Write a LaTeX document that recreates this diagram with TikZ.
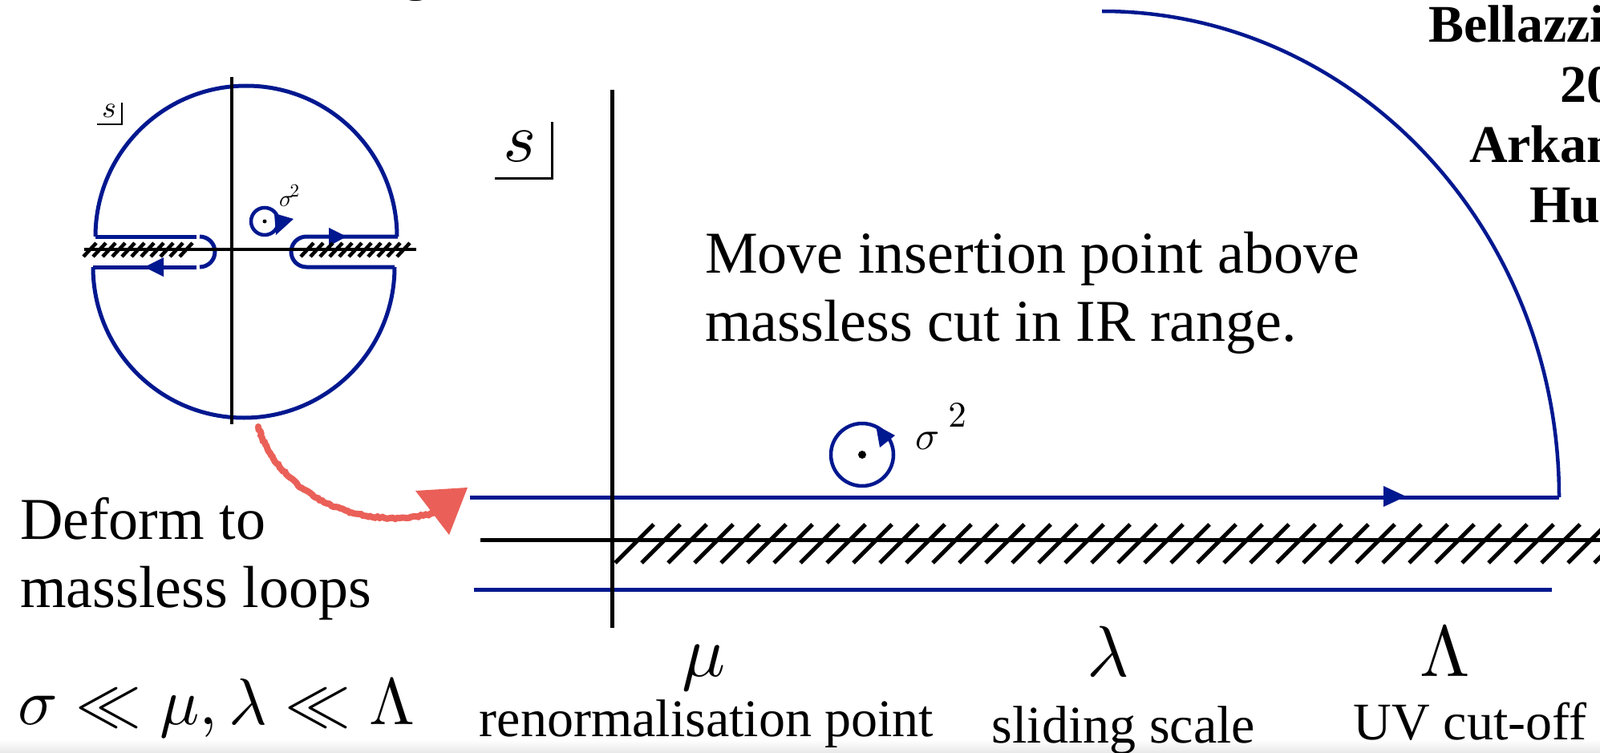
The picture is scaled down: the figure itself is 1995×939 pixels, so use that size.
\documentclass[tikz,border=0pt]{standalone}
\usepackage[no-math]{fontspec}
\setmainfont{Liberation Serif}
\DeclareFontShape{OML}{cmm}{m}{it}{<->cmmi10}{}
\DeclareFontShape{OMS}{cmsy}{m}{n}{<->cmsy10}{}
\DeclareFontShape{OT1}{cmr}{m}{n}{<->cmr10}{}
\usetikzlibrary{decorations.pathmorphing}
\definecolor{cblue}{RGB}{0,24,143}
\definecolor{cred}{RGB}{234,96,88}
\begin{document}
\begin{tikzpicture}[x=1pt,y=1pt,
  bline/.style={draw=cblue,line width=5pt},
  sbline/.style={draw=cblue,line width=5pt},
  axis/.style={draw=black,line width=5pt},
  saxis/.style={draw=black,line width=4.5pt},
  txt/.style={inner sep=0pt,outer sep=0pt},
]
\useasboundingbox (0,0) rectangle (1995,-939);
\clip (0,0) rectangle (1995,-939);
\fill[white] (0,0) rectangle (1995,-939);
\shade[top color=white,bottom color=black!9] (0,-922) rectangle (1995,-939);

% ---------- small diagram ----------
\draw[sbline] (119,-295) arc[start angle=180,end angle=0,radius=188];
\draw[sbline] (116,-333) arc[start angle=180,end angle=360,radius=188];
\draw[sbline] (119,-295) -- (245,-295);
\draw[sbline] (245,-333) -- (116,-333);
\draw[sbline] (249,-295) arc[start angle=90,end angle=-90,radius=19];
\draw[sbline] (496,-295) -- (382,-295) arc[start angle=90,end angle=270,radius=19] -- (492,-333);
\fill[cblue] (180,-333) -- (204,-321) -- (204,-345) -- cycle;
\fill[cblue] (410,-284) -- (432,-295) -- (410,-307) -- cycle;
\draw[saxis] (289,-96) -- (289,-529);
\draw[saxis] (105,-311) -- (519,-311);
\foreach \x in {104,116,...,232} \draw[saxis,line width=4.5pt] (\x,-320) -- (\x+16,-303);
\foreach \x in {375,387,...,501} \draw[saxis,line width=4.5pt] (\x,-320) -- (\x+16,-303);
\draw[sbline,line width=4.5pt] (330,-276) circle[radius=17];
\fill (330,-276) circle[radius=2.5];
\fill[cblue] (342,-266) -- (366,-273) -- (344,-293) -- cycle;
\node[txt,anchor=base west,font=\fontsize{29}{32}\selectfont] (ssig) at (348,-257) {$\sigma$\hspace{-4pt}\raisebox{12pt}{\fontsize{23}{26}\selectfont$2$}};
\node[txt,anchor=base,font=\fontsize{38}{44}\selectfont] (ssmall) at (136,-147) {$s$};
\draw[black,line width=2pt] (121,-155) -- (152,-155) -- (152,-128);

% ---------- red arrow ----------
\draw[cred,line width=8pt,line cap=round,decorate,decoration={random steps,segment length=3pt,amplitude=1pt}] (322,-532) .. controls (345,-610) and (440,-665) .. (540,-640);
\fill[cred] (583,-608) -- (518,-612) -- (560,-667) -- cycle;

% ---------- big diagram ----------
\draw[bline] (586,-620) -- (1944,-620);
\draw[bline,line width=4.5pt] (1944,-620) arc[start angle=0,end angle=90,x radius=570,y radius=606];
\draw[bline] (591,-735) -- (1935,-735);
\fill[cblue] (1725,-606) -- (1753,-619) -- (1725,-632) -- cycle;
\draw[axis] (599,-673) -- (1995,-673);
\draw[axis] (763,-112) -- (763,-783);
\foreach \k in {0,...,37} \draw[axis] ({767+33*\k},-702) -- ({815+33*\k},-654);
\draw[bline,line width=4.5pt] (1075,-567) circle[radius=39];
\fill (1075,-567) circle[radius=5];
\fill[cblue] (1092,-530) -- (1116,-543) -- (1097,-558) -- cycle;
\node[txt,anchor=base west,font=\fontsize{50}{56}\selectfont] (bsig) at (1141,-560) {$\sigma$\hspace{11pt}\raisebox{28pt}{\fontsize{45}{50}\selectfont$2$}};
\node[txt,anchor=base,font=\fontsize{88}{100}\selectfont] (sbig) at (648,-201) {$s$};
\draw[black,line width=3pt] (617,-222) -- (688,-222) -- (688,-152);

% ---------- texts ----------
\node[txt,anchor=base west,font=\fontsize{74}{85}\selectfont] (move1) at (879,-340) {Move insertion point above};
\node[txt,anchor=base west,font=\fontsize{74}{85}\selectfont] (move2) at (879,-425) {massless cut in IR range.};
\node[txt,anchor=base west,font=\fontsize{74}{85}\selectfont] (def1) at (25,-672) {Deform to};
\node[txt,anchor=base west,font=\fontsize{74}{85}\selectfont] (def2) at (25,-757) {massless loops};
\node[txt,anchor=base west,font=\fontsize{82}{90}\selectfont] (ineq) at (22,-903) {$\sigma \ll \mu, \lambda \ll \Lambda$};
\node[txt,anchor=base,font=\fontsize{90}{100}\selectfont] (mu) at (878,-843) {$\mu$};
\node[txt,anchor=base,font=\fontsize{90}{100}\selectfont] (lam) at (1382,-843) {$\lambda$};
\node[txt,anchor=base,font=\fontsize{90}{100}\selectfont] (Lam) at (1802,-843) {$\Lambda$};
\node[txt,anchor=base,font=\fontsize{66}{75}\selectfont] (renorm) at (881,-918) {renormalisation point};
\node[txt,anchor=base,font=\fontsize{66}{75}\selectfont] (slide) at (1401,-926) {sliding scale};
\node[txt,anchor=base,font=\fontsize{66}{75}\selectfont] (uv) at (1833,-922) {UV cut-off};

% ---------- clipped references / title ----------
\node[txt,anchor=base west,font=\fontsize{66}{75}\selectfont\bfseries] (ref1) at (1781,-53) {Bellazzini};
\node[txt,anchor=base west,font=\fontsize{66}{75}\selectfont\bfseries] (ref2) at (1945,-128) {2020};
\node[txt,anchor=base west,font=\fontsize{66}{75}\selectfont\bfseries] (ref3) at (1832,-202) {Arkani-Hamed};
\node[txt,anchor=base west,font=\fontsize{66}{75}\selectfont\bfseries] (ref4) at (1907,-277) {Huang};
\node[txt,anchor=base west,font=\fontsize{64}{70}\selectfont\bfseries] (ttl) at (503,12) {g};
\end{tikzpicture}
\end{document}
